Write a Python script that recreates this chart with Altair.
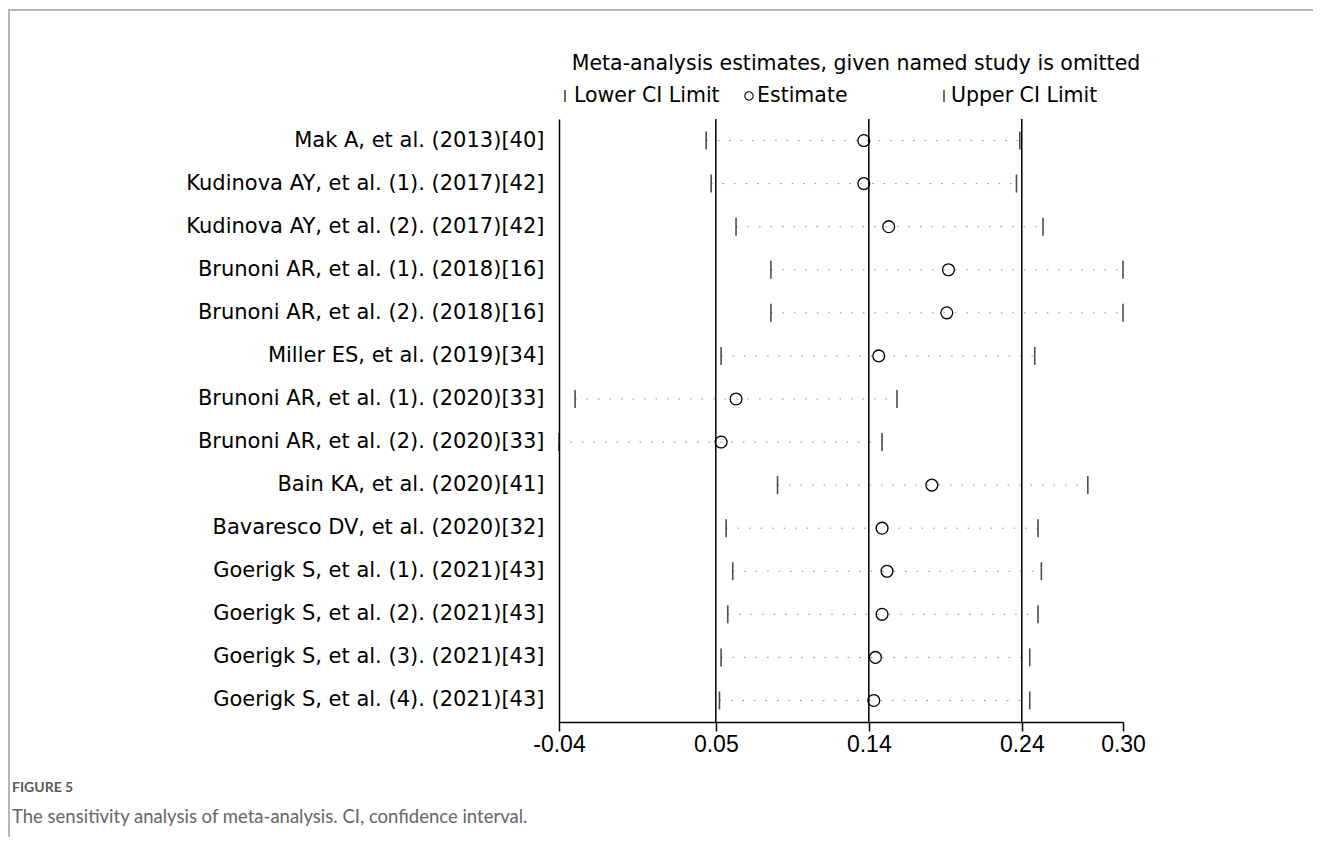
import altair as alt
import pandas as pd

studies = [
    "Mak A, et al. (2013)[40]",
    "Kudinova AY, et al. (1). (2017)[42]",
    "Kudinova AY, et al. (2). (2017)[42]",
    "Brunoni AR, et al. (1). (2018)[16]",
    "Brunoni AR, et al. (2). (2018)[16]",
    "Miller ES, et al. (2019)[34]",
    "Brunoni AR, et al. (1). (2020)[33]",
    "Brunoni AR, et al. (2). (2020)[33]",
    "Bain KA, et al. (2020)[41]",
    "Bavaresco DV, et al. (2020)[32]",
    "Goerigk S, et al. (1). (2021)[43]",
    "Goerigk S, et al. (2). (2021)[43]",
    "Goerigk S, et al. (3). (2021)[43]",
    "Goerigk S, et al. (4). (2021)[43]",
]
lower = [0.046, 0.049, 0.064, 0.085, 0.085, 0.055, -0.033, -0.0427,
         0.089, 0.058, 0.062, 0.059, 0.055, 0.054]
estimate = [0.141, 0.141, 0.156, 0.192, 0.191, 0.150, 0.064, 0.055,
            0.182, 0.152, 0.155, 0.152, 0.148, 0.147]
upper = [0.235, 0.233, 0.249, 0.2972, 0.2972, 0.244, 0.161, 0.152,
         0.276, 0.246, 0.248, 0.246, 0.241, 0.241]

overall = [0.0518, 0.144, 0.2362]          # overall lower CI, estimate, upper CI
axis_ticks = [-0.0427, 0.0518, 0.144, 0.2362, 0.2972]

title_text = "Meta-analysis estimates, given named study is omitted"
legend_labels = ["Lower CI Limit", "Estimate", "Upper CI Limit"]
fig_label = "FIGURE 5"
caption = "The sensitivity analysis of meta-analysis. CI, confidence interval."

df = pd.DataFrame({"study": studies, "lower": lower, "estimate": estimate, "upper": upper})
ref = pd.DataFrame({"value": overall})

W, H = 564, 603
FONT = "DejaVu Sans"

xscale = alt.Scale(domain=[axis_ticks[0], axis_ticks[-1]], nice=False, zero=False)
xaxis = alt.Axis(
    values=axis_ticks, title=None, grid=False,
    labelExpr="datum.value < 0 ? '-' + format(-datum.value, '.2f') : format(datum.value, '.2f')",
    labelFont="Liberation Sans", labelFontSize=23, labelColor="black",
    tickSize=9, tickColor="black", tickWidth=1.5, domainColor="black", domainWidth=1.5,
    labelPadding=2, labelFlush=False,
)
yenc = alt.Y(
    "study:N", sort=studies, title=None,
    scale=alt.Scale(paddingInner=0, paddingOuter=0),
    axis=alt.Axis(labelFont=FONT, labelFontSize=21, labelColor="black", labelPadding=15,
                  ticks=False, domainColor="black", domainWidth=1.5, labelLimit=0),
)


def X(field):
    return alt.X(f"{field}:Q", scale=xscale, axis=xaxis, title=None)


base = alt.Chart(df)

dots = base.mark_rule(color="#8a8a8a", strokeWidth=1, strokeDash=[1.5, 10]).encode(
    x=X("lower"), x2="upper", y=yenc)
lo = base.mark_tick(color="black", size=18, thickness=1.6).encode(x=X("lower"), y=yenc)
hi = base.mark_tick(color="black", size=18, thickness=1.6).encode(x=X("upper"), y=yenc)
est = base.mark_point(shape="circle", filled=False, size=140, color="black",
                      strokeWidth=1.3, opacity=1).encode(x=X("estimate"), y=yenc)

refs = alt.Chart(ref).mark_rule(color="black", strokeWidth=1.5).encode(x=X("value"))


def text_layer(txt, x, y, size, font=FONT, color="black", align="left", weight="normal"):
    return alt.Chart(pd.DataFrame({"t": [txt]})).mark_text(
        font=font, fontSize=size, color=color, align=align, baseline="middle",
        fontWeight=weight,
    ).encode(text="t:N", x=alt.value(x), y=alt.value(y))


title = text_layer(title_text, 297, -55, 20.5, align="center")
leg1 = text_layer(legend_labels[0], 15, -23, 20.5)
leg2 = text_layer(legend_labels[1], 198, -23, 20.5)
leg3 = text_layer(legend_labels[2], 392, -23, 20.5)

pipe_df = pd.DataFrame({"k": [0]})
pipe1 = alt.Chart(pipe_df).mark_rule(color="black", strokeWidth=1.2).encode(
    x=alt.value(6), y=alt.value(-29), y2=alt.value(-17))
pipe2 = alt.Chart(pipe_df).mark_rule(color="black", strokeWidth=1.2).encode(
    x=alt.value(385), y=alt.value(-29), y2=alt.value(-17))
legc = alt.Chart(pipe_df).mark_point(shape="circle", filled=False, size=70, color="black",
                                     strokeWidth=1.1, opacity=1).encode(
    x=alt.value(190), y=alt.value(-23))

figlab = text_layer(fig_label, -547, 669, 14, font="Lato", color="#5a5a5a", weight="bold")
cap = text_layer(caption, -547, 698, 18.5, font="Lato", color="#666666")

frame_v = alt.Chart(pipe_df).mark_rule(color="#b5b5b5", strokeWidth=2).encode(
    x=alt.value(-550), y=alt.value(-109), y2=alt.value(730))
frame_h = alt.Chart(pipe_df).mark_rule(color="#b5b5b5", strokeWidth=2).encode(
    x=alt.value(-551), x2=alt.value(770), y=alt.value(-109))

chart = alt.layer(
    dots, refs, lo, hi, est,
    title, leg1, leg2, leg3, pipe1, pipe2, legc,
    figlab, cap, frame_v, frame_h,
).properties(
    width=W, height=H,
    padding={"left": 551, "top": 111, "right": 190, "bottom": 115},
    autosize=alt.AutoSizeParams(type="none"),
    background="white",
).configure_view(stroke=None)

chart.save("out.html", embed_options={"renderer": "svg", "actions": False})
